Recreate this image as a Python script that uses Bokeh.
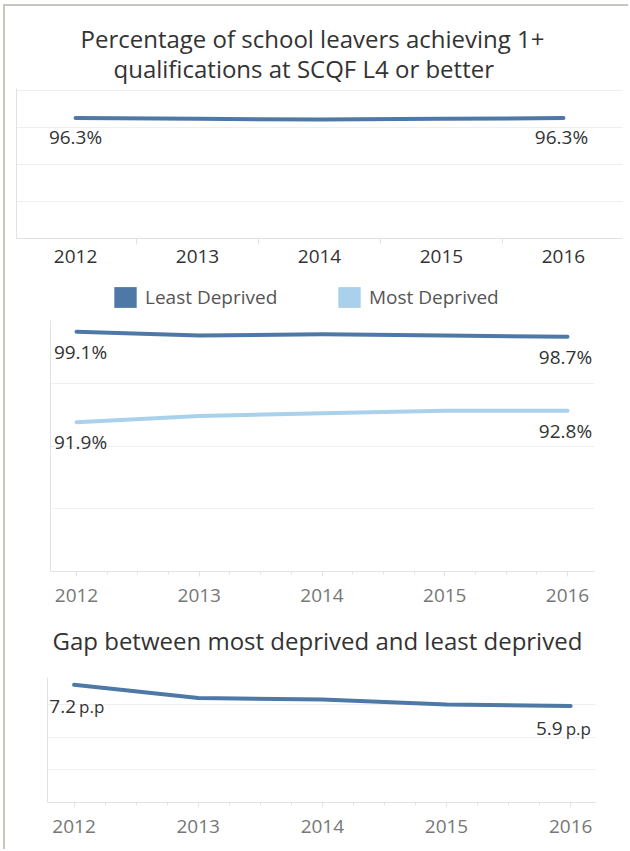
from bokeh.plotting import figure
from bokeh.layouts import column
from bokeh.models import FixedTicker, Legend, LegendItem, Title, ColumnDataSource, Range1d
from bokeh.embed import file_html
from bokeh.resources import INLINE
from bokeh.core.properties import value

# ---------------- data ----------------
years = [2012, 2013, 2014, 2015, 2016]
all_leavers = [96.3, 96.2, 96.1, 96.2, 96.3]
least_deprived = [99.1, 98.8, 98.9, 98.8, 98.7]
most_deprived = [91.9, 92.4, 92.6, 92.8, 92.8]
gap_pp = [7.2, 6.4, 6.3, 6.0, 5.9]
pct_ticks = [80, 85, 90, 95, 100]
gap_ticks = [0, 2, 4, 6]
title_lines = ["Percentage of school leavers achieving 1+",
               "qualifications at SCQF L4 or better"]
gap_title = "Gap between most deprived and least deprived"
series_names = ["Least Deprived", "Most Deprived"]

# ---------------- style ----------------
FONT = "Open Sans"
DARK = "#333333"
MID = "#777777"
BLUE = "#4e79a7"
LIGHT = "#a9d1eb"
GRID = "#efefef"
AXIS = "#e2e2e2"
FRAME = "#c9c6bd"
W = 625
NAN = float("nan")


def base_fig(height, xr, yr, left, right, top, bottom):
    p = figure(width=W, height=height, x_range=xr, y_range=yr,
               output_backend="svg", toolbar_location=None,
               min_border_left=left, min_border_right=right,
               min_border_top=top, min_border_bottom=bottom,
               frame_align=False)
    p.outline_line_color = None
    p.background_fill_color = "white"
    p.border_fill_color = "white"
    p.xgrid.visible = False
    p.ygrid.grid_line_color = GRID
    p.ygrid.grid_line_width = 1
    ya = p.yaxis[0]
    ya.ticker = FixedTicker(ticks=[])
    ya.major_tick_out = 0
    ya.major_tick_in = 0
    ya.minor_tick_out = 0
    ya.minor_tick_in = 0
    ya.major_label_standoff = 0
    ya.axis_line_color = AXIS
    xa = p.xaxis[0]
    xa.axis_line_color = AXIS
    xa.major_label_text_font = FONT
    xa.major_label_text_font_size = "19px"
    return p


def blank_fig(height):
    p = figure(width=W, height=height, x_range=(0, 1), y_range=(0, 1),
               output_backend="svg", toolbar_location=None,
               x_axis_location=None, y_axis_location=None, min_border=0,
               frame_align=False)
    p.grid.visible = False
    p.outline_line_color = None
    return p


def end_labels(p, xs, ys, texts, dy, dxs, size="19px", align="center", baseline="middle"):
    src = ColumnDataSource(dict(x=[xs[0], xs[-1]], y=[ys[0], ys[-1]], t=texts, dx=dxs))
    p.text(x="x", y="y", text="t", source=src, x_offset="dx", y_offset=dy,
           text_align=align, text_baseline=baseline,
           text_font=value(FONT), text_font_size=size, text_color=DARK)


def title(text, standoff, offset):
    return Title(text=text, align="left", offset=offset, text_font=FONT,
                 text_font_size="24px", text_font_style="normal",
                 text_color=DARK, standoff=standoff)


# ---------------- chart 1 ----------------
pA = base_fig(272, Range1d(2011.516, 2016.484), Range1d(80, 100.3), 11, 8, 82, 40)
pA.ygrid.ticker = FixedTicker(ticks=pct_ticks)
pA.xaxis.ticker = FixedTicker(ticks=years, minor_ticks=[y + 0.5 for y in years[:-1]])
xa = pA.xaxis[0]
xa.major_tick_out = 0
xa.major_tick_in = 0
xa.minor_tick_out = 6
xa.minor_tick_in = 0
xa.minor_tick_line_color = AXIS
xa.major_label_text_color = DARK
xa.major_label_standoff = 5

pA.add_layout(title(title_lines[1], 8, 97), "above")
pA.add_layout(title(title_lines[0], -19, 64), "above")

pA.line(years, all_leavers, line_width=4, color=BLUE, line_cap="round", line_join="round")
end_labels(pA, years, all_leavers, [f"{all_leavers[0]:.1f}%", f"{all_leavers[-1]:.1f}%"], 19, [0, -2])

# ---------------- legend ----------------
pL = blank_fig(38)
rl1 = pL.quad(left=[NAN], right=[NAN], top=[NAN], bottom=[NAN], fill_color=BLUE, line_color=None)
rl2 = pL.quad(left=[NAN], right=[NAN], top=[NAN], bottom=[NAN], fill_color=LIGHT, line_color=None)
for r, name, loc in [(rl1, series_names[0], (106, 6)), (rl2, series_names[1], (330, 6))]:
    lg = Legend(items=[LegendItem(label=name, renderers=[r])], location=loc,
                orientation="horizontal", glyph_width=28, glyph_height=26,
                label_standoff=6, padding=0, margin=0, spacing=0,
                border_line_color=None, background_fill_alpha=0,
                label_text_font=FONT, label_text_font_size="19px",
                label_text_color="#555555")
    pL.add_layout(lg)

# ---------------- chart 2 ----------------
quarters = [y + k * 0.25 for y in years[:-1] for k in (1, 2, 3)]
p2 = base_fig(296, Range1d(2011.788, 2016.22), Range1d(80, 100), 45, 36, 4, 41)
p2.ygrid.ticker = FixedTicker(ticks=pct_ticks)
p2.xaxis.ticker = FixedTicker(ticks=years, minor_ticks=quarters)
xa = p2.xaxis[0]
xa.major_tick_out = 5
xa.major_tick_in = 0
xa.minor_tick_out = 3
xa.minor_tick_in = 0
xa.major_tick_line_color = AXIS
xa.minor_tick_line_color = AXIS
xa.major_label_text_color = MID
xa.major_label_standoff = 12

p2.line(years, least_deprived, line_width=4, color=BLUE, line_cap="round", line_join="round")
p2.line(years, most_deprived, line_width=4, color=LIGHT, line_cap="round", line_join="round")
end_labels(p2, years, least_deprived, [f"{least_deprived[0]:.1f}%", f"{least_deprived[-1]:.1f}%"], 20, [4, -2])
end_labels(p2, years, most_deprived, [f"{most_deprived[0]:.1f}%", f"{most_deprived[-1]:.1f}%"], 20, [4, -2])

# ---------------- gap title ----------------
pT = blank_fig(60)
pT.add_layout(title(gap_title, 19, 47), "above")

# ---------------- chart 3 ----------------
p3 = base_fig(179, Range1d(2011.786, 2016.2), Range1d(0, 7.65), 42, 35, 5, 49)
p3.ygrid.ticker = FixedTicker(ticks=gap_ticks)
p3.xaxis.ticker = FixedTicker(ticks=years, minor_ticks=quarters)
xa = p3.xaxis[0]
xa.major_tick_out = 5
xa.major_tick_in = 0
xa.minor_tick_out = 3
xa.minor_tick_in = 0
xa.major_tick_line_color = AXIS
xa.minor_tick_line_color = AXIS
xa.major_label_text_color = MID
xa.major_label_standoff = 12

p3.line(years, gap_pp, line_width=4, color=BLUE, line_cap="round", line_join="round")
end_labels(p3, years, gap_pp, [f"{gap_pp[0]:.1f}", f"{gap_pp[-1]:.1f}"], 22, [2, -8],
           align="right", baseline="alphabetic")
end_labels(p3, years, gap_pp, ["p.p", "p.p"], 22, [5, -5], size="17px",
           align="left", baseline="alphabetic")

layout = column(pA, pL, p2, pT, p3, spacing=0,
                styles={"margin": "6px 0px 0px 5px",
                        "box-shadow": f"-2px -2px 0px 0px {FRAME}"})
open("out.html", "w").write(file_html(layout, INLINE))
